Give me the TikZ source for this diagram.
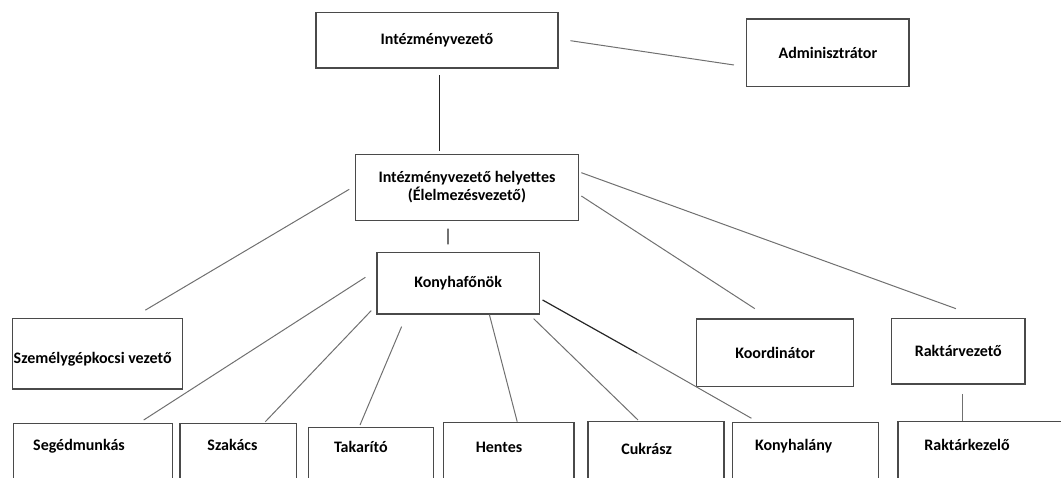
\documentclass[tikz,border=0pt]{standalone}
\usepackage{fontspec}
\setmainfont{Carlito}
\definecolor{boxc}{HTML}{4A4A4A}
\definecolor{linec}{HTML}{707070}
\begin{document}
\begin{tikzpicture}[x=1pt,y=-1pt,
  txtf/.style={font=\fontsize{16}{18}\selectfont\bfseries},
  box/.style={draw=boxc, line width=1.2pt, inner sep=0pt, txtf, align=center},
  bbox/.style={draw=boxc, line width=1.2pt, inner sep=0pt, anchor=north, minimum height=90pt},
  lbl/.style={txtf, inner sep=0pt, anchor=base},
  conn/.style={draw=linec, line width=1pt},
  dconn/.style={draw=black!85, line width=1.2pt}]
\useasboundingbox (0,0) rectangle (1061,478);
\clip (0,0) rectangle (1061,478);
% boxes
\node[box, minimum width=242pt, minimum height=55.7pt] (int) at (437,40.2) {Intézményvezető};
\node[box, minimum width=162.3pt, minimum height=67.7pt] (adm) at (827.9,52.9) {Adminisztrátor};
\node[box, minimum width=222.7pt, minimum height=66pt] (hel) at (467,187.5) {Intézményvezető helyettes\\(Élelmezésvezető)};
\node[box, minimum width=170pt, minimum height=70.7pt] (szem) at (97.5,353.7) {};
\node[lbl, anchor=base west] (szemT) at (13.5,363.5) {Személygépkocsi vezető};
\node[box, minimum width=162.4pt, minimum height=61.7pt] (kon) at (458.1,283.2) {Konyhafőnök};
\node[box, minimum width=157pt, minimum height=67.7pt] (koo) at (775.2,352.8) {Koordinátor};
\node[box, minimum width=133.3pt, minimum height=65.7pt] (rv) at (958.3,351.2) {Raktárvezető};
% bottom row
\node[bbox, minimum width=159.4pt] (seg) at (93,422.7) {};
\node[lbl] (segT) at (79,450) {Segédmunkás};
\node[bbox, minimum width=116.7pt] (sza) at (238.35,422.7) {};
\node[lbl] (szaT) at (232.5,450) {Szakács};
\node[bbox, minimum width=125pt] (tak) at (370.8,426.7) {};
\node[lbl] (takT) at (360.8,452) {Takarító};
\node[bbox, minimum width=130.2pt] (hen) at (508.9,421.7) {};
\node[lbl] (henT) at (499,453) {Hentes};
\node[bbox, minimum width=136pt] (cuk) at (656,420.7) {};
\node[lbl] (cukT) at (646.6,454) {Cukrász};
\node[bbox, minimum width=145.3pt] (kl) at (805.45,421.7) {};
\node[lbl] (klT) at (793.6,450) {Konyhalány};
\node[bbox, minimum width=172pt] (rk) at (984,421) {};
\node[lbl] (rkT) at (967,450) {Raktárkezelő};
% connectors
\draw[conn] ([shift={(11.9,0.5)}]int.east) -- ([shift={(-12.2,12.1)}]adm.west);
\draw[dconn] ([shift={(2.4,6.7)}]int.south) -- ([shift={(-27.6,-2.6)}]hel.north);
\draw[conn] ([shift={(-5.8,1.8)}]hel.west) -- ([shift={(47.8,-7.6)}]szem.north);
\draw[dconn] ([shift={(-19.1,7.6)}]hel.south) -- ([shift={(-10.2,-7.3)}]kon.north);
\draw[conn] ([shift={(2.4,8.5)}]hel.east) -- ([shift={(-20.4,-9.7)}]koo.north);
\draw[conn] ([shift={(2.4,-14.8)}]hel.east) -- ([shift={(-2.4,-9.1)}]rv.north);
\draw[conn] ([shift={(-10.9,-5.9)}]kon.west) -- ([shift={(50.7,-2.7)}]seg.north);
\draw[conn] ([shift={(-5.1,-4)}]kon.south west) -- ([shift={(27,-1)}]sza.north);
\draw[conn] ([shift={(-56.5,12)}]kon.south) -- ([shift={(-10.8,-1.7)}]tak.north);
\draw[conn] ([shift={(31.3,0)}]kon.south) -- ([shift={(8.3,0)}]hen.north);
\draw[conn] ([shift={(-6.3,4)}]kon.south east) -- ([shift={(-18,-0.7)}]cuk.north);
\coordinate (klk) at (637,353);
\draw[dconn] ([shift={(2.7,16.8)}]kon.east) -- (klk);
\draw[conn] (klk) -- ([shift={(-54,-3.4)}]kl.north);
\draw[conn] ([shift={(4.4,9.3)}]rv.south) -- ([shift={(-21.3,0)}]rk.north);
\end{tikzpicture}
\end{document}
